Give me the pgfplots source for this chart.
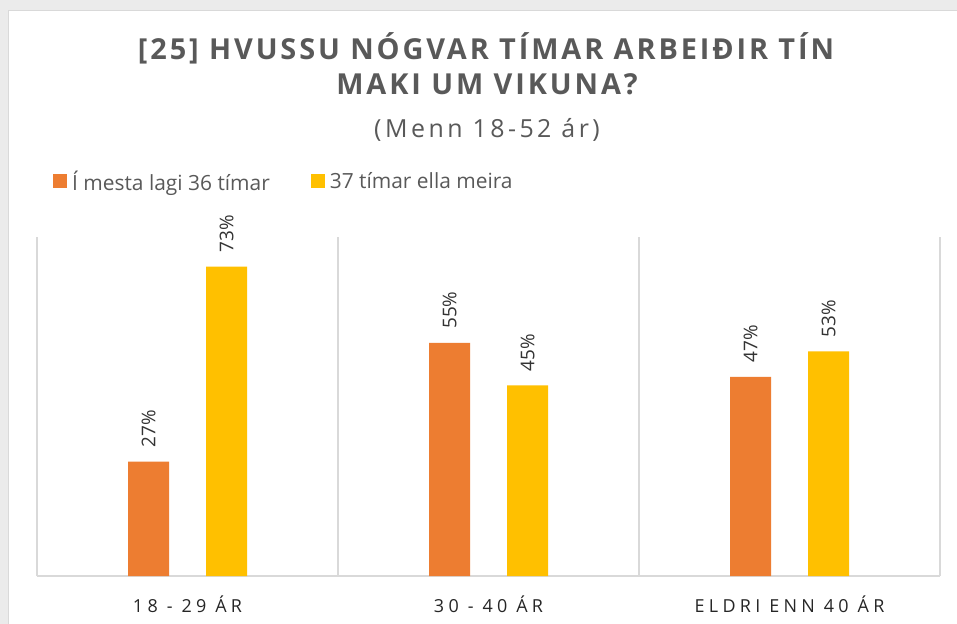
\documentclass[border=0pt]{standalone}
\usepackage{pgfplots}
\pgfplotsset{compat=1.18}
\usepackage{fontspec}
\setmainfont{Open Sans}
\newfontfamily\titlefont[LetterSpace=10]{Open Sans Bold}
\newfontfamily\subfont[LetterSpace=14]{Open Sans}
\newfontfamily\tickfont[LetterSpace=24]{Open Sans}
\newfontfamily\labfont{Open Sans}
\definecolor{cOrange}{HTML}{ED7D31}
\definecolor{cYellow}{HTML}{FFC000}
\definecolor{cGrid}{HTML}{D9D9D9}
\definecolor{cText}{HTML}{595959}
\definecolor{cTick}{HTML}{262626}
\definecolor{cLab}{HTML}{333333}
\definecolor{cBack}{HTML}{EBEBEB}
\begin{document}
\begin{tikzpicture}
\useasboundingbox (0,0) rectangle (957bp,624bp);
\fill[cBack] (0,0) rectangle (957bp,624bp);
\filldraw[fill=white, draw=cGrid, line width=1bp] (8bp,-5bp) rectangle (965bp,613bp);
\node[anchor=base, text=cText, font={\titlefont\fontsize{29}{32}\selectfont}] at (486bp,564bp) {[25] HVUSSU NÓGVAR TÍMAR ARBEIÐIR TÍN};
\node[anchor=base, text=cText, font={\titlefont\fontsize{29}{32}\selectfont}] at (487bp,529bp) {MAKI UM VIKUNA?};
\node[anchor=base, text=cText, font={\subfont\fontsize{25}{28}\selectfont}] at (487bp,486bp) {(Menn 18-52 ár)};
\begin{axis}[
  at={(37bp,48bp)}, anchor=south west,
  scale only axis, width=903bp, height=339bp,
  xmin=0, xmax=3, ymin=0, ymax=80,
  axis x line=bottom, axis y line=none,
  x axis line style={-, draw=cGrid, line width=1.3bp},
  xtick={0.5,1.5,2.5},
  xticklabels={18 - 29 ÁR, 30 - 40 ÁR, ELDRI ENN 40 ÁR},
  major tick length=0pt, minor tick length=0pt,
  minor xtick={0,1,2,3},
  xminorgrids=true,
  minor x grid style={draw=cGrid, line width=1.3bp},
  ytick=\empty,
  xticklabel style={anchor=base, yshift=-36bp, text=cTick, font={\tickfont\fontsize{18}{20}\selectfont}},
  ybar,
  /pgf/number format/assume math mode=true,
  nodes near coords={\pgfmathprintnumber{\pgfplotspointmeta}\%},
  nodes near coords style={rotate=90, anchor=west, inner xsep=14bp, text=cLab, font={\labfont\fontsize{19}{21}\selectfont}},
  legend columns=2,
  legend style={at={(axis description cs:0.0177,1.165)}, anchor=west, draw=none, fill=none, inner sep=0pt,
    font={\labfont\fontsize{21}{24}\selectfont}, text=cText,
    nodes={inner xsep=5bp},
    /tikz/every even column/.append style={column sep=36bp}},
  legend image code/.code={\fill[#1] (0bp,-7bp) rectangle (14bp,7bp);},
  clip=false,
]
\addplot[fill=cOrange, draw=none, bar width=41bp, bar shift=-39bp] coordinates {(0.5,27) (1.5,55) (2.5,47)};
\addplot[fill=cYellow, draw=none, bar width=41bp, bar shift=39bp] coordinates {(0.5,73) (1.5,45) (2.5,53)};
\legend{Í mesta lagi 36 tímar, 37 tímar ella meira}
\end{axis}
\end{tikzpicture}
\end{document}
